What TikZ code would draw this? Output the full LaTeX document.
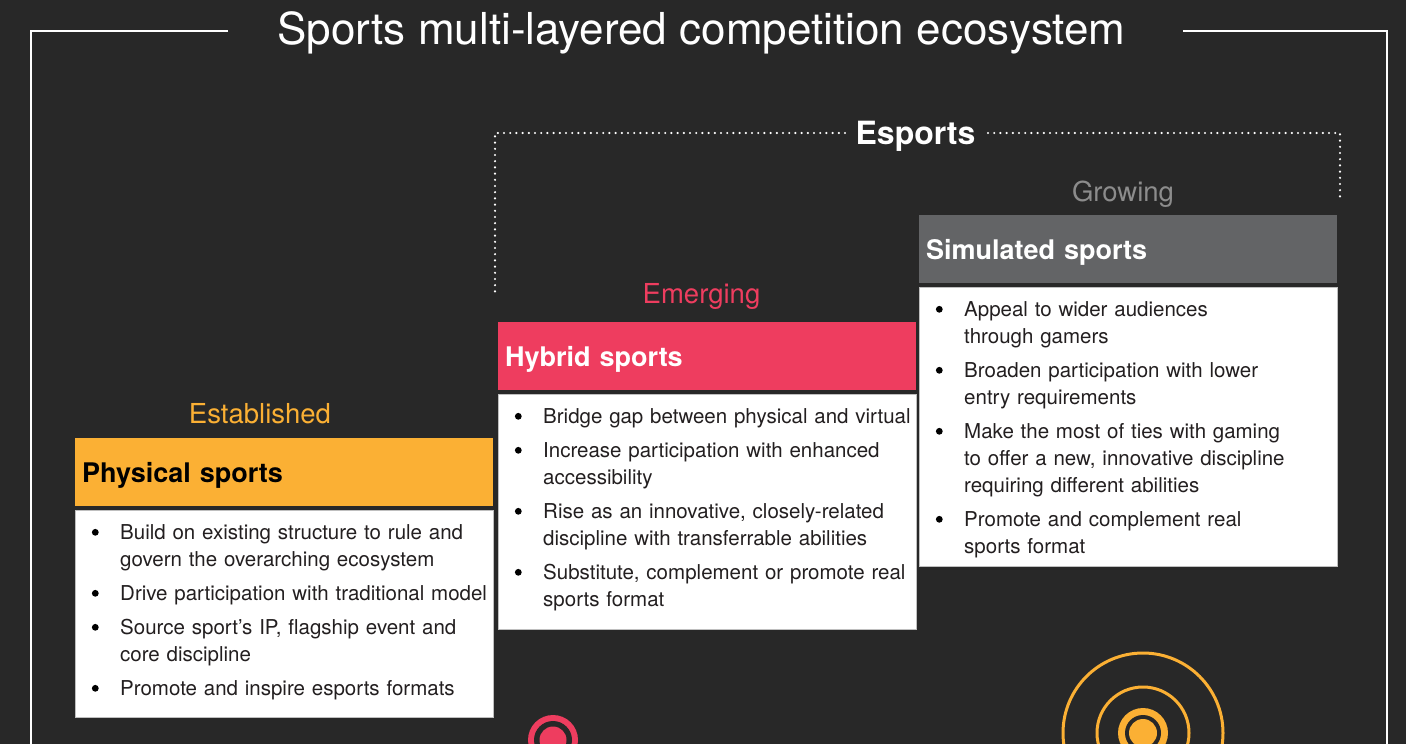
\documentclass[tikz,border=0pt]{standalone}
\usepackage{fontspec}
\setmainfont{TeX Gyre Heros}
\usepackage{xcolor}
\usepackage{tikz}
\usetikzlibrary{positioning}

\definecolor{bgdark}{HTML}{282828}
\definecolor{estorange}{HTML}{FBB034}
\definecolor{emgpink}{HTML}{EE3D5F}
\definecolor{growgray}{HTML}{636466}
\definecolor{growtext}{HTML}{8C8C8C}
\definecolor{bodytext}{HTML}{231F20}

\newcommand{\sportdot}{\tikz[baseline=-7.3pt]\fill[black] (0,0) circle (3.4pt);}
\newenvironment{sportlist}{\begin{list}{\sportdot}{%
  \setlength{\leftmargin}{45pt}\setlength{\labelsep}{21.5pt}%
  \setlength{\labelwidth}{23.5pt}\setlength{\itemsep}{7pt}%
  \setlength{\parsep}{0pt}\setlength{\topsep}{0pt}%
  \setlength{\partopsep}{0pt}\setlength{\itemindent}{0pt}}}{\end{list}}

\begin{document}
\begin{tikzpicture}[x=1pt,y=-1pt,
  frame/.style={white,line width=2.5pt},
  dotline/.style={white,line width=2.4pt,line cap=round,dash pattern=on 0pt off 6.2pt},
  tierlabel/.style={anchor=base,font=\fontsize{27.5}{32}\selectfont},
  tierhead/.style={anchor=north west,minimum width=418pt,minimum height=68pt,
    text width=404pt,text height=21pt,text depth=0pt,inner xsep=7pt,inner ysep=0pt,
    font=\fontsize{27}{32}\selectfont\bfseries},
  bodybox/.style={fill=white,draw=black!25,line width=1pt,minimum width=418pt,inner sep=0pt},
  itemlist/.style={anchor=north west,inner sep=0pt,text width=440pt,text=bodytext,
    font=\fontsize{20.5}{27}\selectfont}]
\useasboundingbox (0,0) rectangle (1406,744);
\fill[bgdark] (0,0) rectangle (1406,744);

% title and outer frame
\node[anchor=base,text=white,font=\fontsize{44}{50}\selectfont] (title) at (701.5,44)
  {Sports multi-layered competition ecosystem};
\draw[frame] (228,31) -- (31,31) -- (31,760);
\draw[frame] (1183,31) -- (1387,31) -- (1387,760);

% esports bracket
\node[anchor=base,text=white,font=\fontsize{32}{38}\selectfont\bfseries] (esports) at (915.5,144) {Esports};
\draw[dotline] (845,133) -- (495,133) -- (495,293);
\draw[dotline] (988,133) -- (1340,133) -- (1340,197);

% established
\node[tierlabel,text=estorange] (estlbl) at (260,423) {Established};
\node[tierhead,fill=estorange,text=black] (phys) at (75,438) {Physical sports};
\node[bodybox,minimum height=207pt,below=4pt of phys.south west,anchor=north west] (physbox) {};
\node[itemlist] (physlist) at ([yshift=-2pt]physbox.north west) {%
\begin{sportlist}
\item Build on existing structure to rule and\\ govern the overarching ecosystem
\item Drive participation with traditional model
\item Source sport’s IP, flagship event and\\ core discipline
\item Promote and inspire esports formats
\end{sportlist}};

% emerging
\node[tierlabel,text=emgpink] (emglbl) at (701.5,303) {Emerging};
\node[tierhead,fill=emgpink,text=white] (hyb) at (498,322) {Hybrid sports};
\node[bodybox,minimum height=235pt,below=4pt of hyb.south west,anchor=north west] (hybbox) {};
\node[itemlist] (hyblist) at ([yshift=-2pt]hybbox.north west) {%
\begin{sportlist}
\item Bridge gap between physical and virtual
\item Increase participation with enhanced\\ accessibility
\item Rise as an innovative, closely-related\\ discipline with transferrable abilities
\item Substitute, complement or promote real\\ sports format
\end{sportlist}};

% growing
\node[tierlabel,text=growtext] (growlbl) at (1123,201) {Growing};
\node[tierhead,fill=growgray,text=white] (sim) at (919,215) {Simulated sports};
\node[bodybox,minimum height=279pt,below=4pt of sim.south west,anchor=north west] (simbox) {};
\node[itemlist] (simlist) at ([yshift=-2pt]simbox.north west) {%
\begin{sportlist}
\item Appeal to wider audiences\\ through gamers
\item Broaden participation with lower\\ entry requirements
\item Make the most of ties with gaming\\ to offer a new, innovative discipline\\ requiring different abilities
\item Promote and complement real\\ sports format
\end{sportlist}};

% targets
\fill[emgpink] (553,740) circle (25pt);
\fill[bgdark] (553,740) circle (19pt);
\fill[emgpink] (553,740) circle (13.5pt);
\draw[estorange,line width=3pt] (1143,733) circle (80pt);
\draw[estorange,line width=3pt] (1143,733) circle (46pt);
\fill[estorange] (1143,733) circle (25pt);
\fill[bgdark] (1143,733) circle (18pt);
\fill[estorange] (1143,733) circle (14pt);
\end{tikzpicture}
\end{document}
